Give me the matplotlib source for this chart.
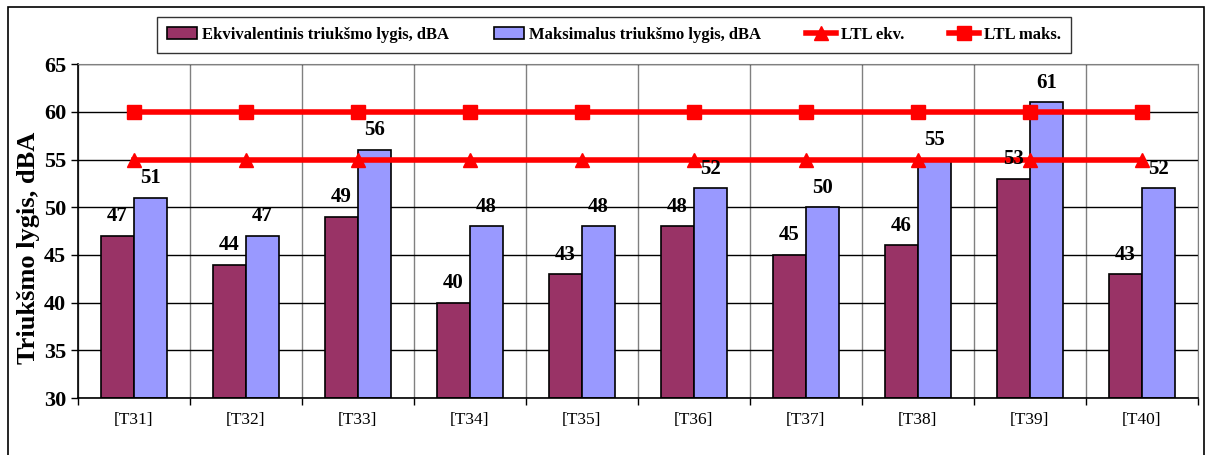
import matplotlib
matplotlib.use('Agg')
import matplotlib.pyplot as plt
from matplotlib.patches import Rectangle
import numpy as np

points = ['[T31]', '[T32]', '[T33]', '[T34]', '[T35]', '[T36]', '[T37]', '[T38]', '[T39]', '[T40]']
ekv = [47, 44, 49, 40, 43, 48, 45, 46, 53, 43]
maks = [51, 47, 56, 48, 48, 52, 50, 55, 61, 52]
ltl_ekv = [55] * 10
ltl_maks = [60] * 10

plt.rcParams['font.family'] = ['Liberation Serif', 'DejaVu Serif']

fig = plt.figure(figsize=(12.11, 4.55), dpi=100)
ax = fig.add_axes([0.0644, 0.125, 0.9246, 0.734])

x = np.arange(len(points))
w = 0.295
b1 = ax.bar(x - w / 2, [v - 30 for v in ekv], w, bottom=30, color='#993366',
            edgecolor='black', linewidth=1.2, label='Ekvivalentinis triukšmo lygis, dBA', zorder=2)
b2 = ax.bar(x + w / 2, [v - 30 for v in maks], w, bottom=30, color='#9999FF',
            edgecolor='black', linewidth=1.2, label='Maksimalus triukšmo lygis, dBA', zorder=2)
l1, = ax.plot(x, ltl_ekv, color='#FF0000', lw=4, marker='^', ms=10, label='LTL ekv.', zorder=3)
l2, = ax.plot(x, ltl_maks, color='#FF0000', lw=4, marker='s', ms=10, label='LTL maks.', zorder=3)

for xi, v in zip(x, ekv):
    ax.text(xi - w / 2, v + 1.0, str(v), ha='center', va='bottom', fontsize=15, fontweight='bold', zorder=4)
for xi, v in zip(x, maks):
    ax.text(xi + w / 2, v + 1.0, str(v), ha='center', va='bottom', fontsize=15, fontweight='bold', zorder=4)

ax.set_xlim(-0.5, len(points) - 0.5)
ax.set_ylim(30, 65)
ax.set_yticks(range(30, 66, 5))
ax.tick_params(axis='y', labelsize=16, length=5, width=1, direction='out')
for lab in ax.get_yticklabels():
    lab.set_fontweight('bold')
ax.set_xticks(x)
ax.set_xticklabels(points, fontsize=12.5)
ax.tick_params(axis='x', length=0, pad=10)
ax.set_xticks(np.arange(-0.5, len(points), 1), minor=True)
ax.tick_params(axis='x', which='minor', length=5, width=1)
ax.grid(axis='y', color='black', lw=1, zorder=0)
ax.grid(axis='x', which='minor', color='#808080', lw=1, zorder=0)
ax.set_ylabel('Triukšmo lygis, dBA', fontsize=19, fontweight='bold')
ax.yaxis.set_label_coords(-0.034, 0.45)
for s in ['top', 'right']:
    ax.spines[s].set_color('#808080')
ax.spines['left'].set_linewidth(1.2)
ax.spines['bottom'].set_linewidth(1.2)

leg = fig.legend([b1, b2, l1, l2], [b1.get_label(), b2.get_label(), l1.get_label(), l2.get_label()],
                 loc='center', bbox_to_anchor=(0.507, 0.923), ncol=4, frameon=True,
                 fancybox=False, edgecolor='black', prop={'size': 12, 'weight': 'bold'},
                 handlelength=1.8, columnspacing=2.7, handletextpad=0.3, borderpad=0.6)
leg.get_frame().set_linewidth(1)

fig.patches.append(Rectangle((8 / 1211, -0.01), 1196 / 1211, 1 - 7 / 455 + 0.01,
                             transform=fig.transFigure, fill=False, edgecolor='black', lw=1.2))

fig.savefig('out.png', dpi=100)
